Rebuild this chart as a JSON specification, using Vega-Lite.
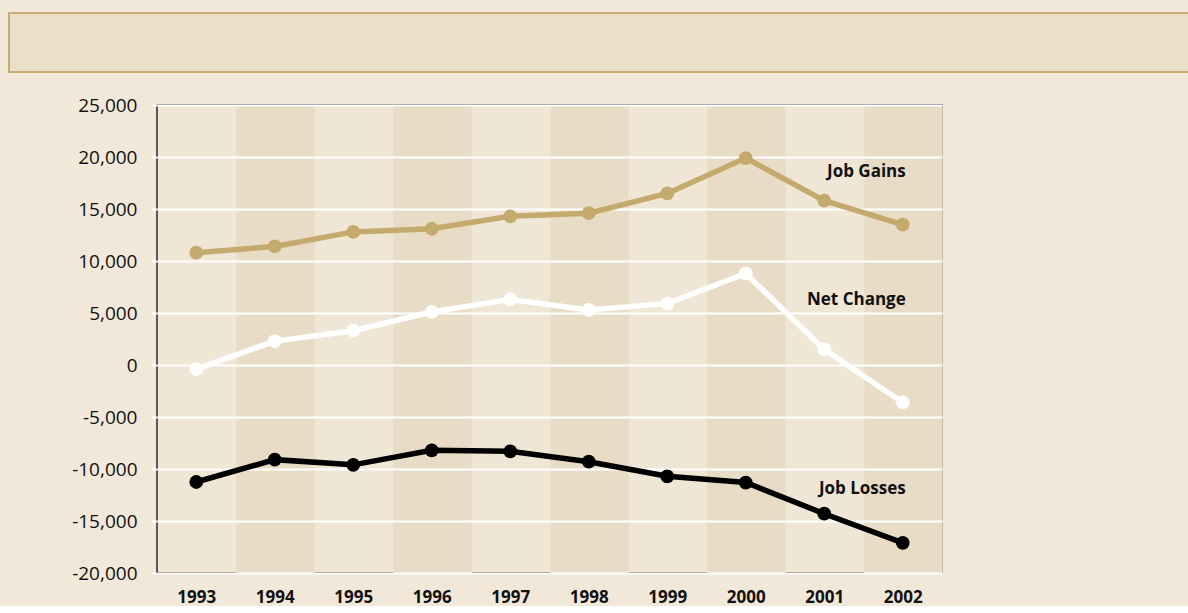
{
  "$schema": "https://vega.github.io/schema/vega-lite/v6.json",
  "background": "#F1E8DA",
  "padding": {"left": 8, "top": 12, "right": 0, "bottom": 0},
  "config": {"font": "Open Sans", "view": {"stroke": null}},
  "align": "none",
  "bounds": "full",
  "spacing": 22,
  "vconcat": [
    {
      "width": 1180,
      "height": 59,
      "view": {"fill": "#EADFC9", "stroke": "#C8AD72", "strokeWidth": 2},
      "data": {"values": []},
      "mark": "point",
      "encoding": {}
    },
    {
      "spacing": 0,
      "hconcat": [
        {
          "width": 61,
          "height": 468,
          "data": {"values": []},
          "mark": "point",
          "encoding": {}
        },
        {
          "width": 785,
          "height": 468,
          "view": {"fill": "#EFE6D6", "stroke": "#2A2A2A", "strokeWidth": 1.5},
          "layer": [
            {
              "data": {"values": [
                {"year": 1993, "series": "Job Gains", "jobs": 10800},
                {"year": 1994, "series": "Job Gains", "jobs": 11400},
                {"year": 1995, "series": "Job Gains", "jobs": 12800},
                {"year": 1996, "series": "Job Gains", "jobs": 13100},
                {"year": 1997, "series": "Job Gains", "jobs": 14300},
                {"year": 1998, "series": "Job Gains", "jobs": 14600},
                {"year": 1999, "series": "Job Gains", "jobs": 16500},
                {"year": 2000, "series": "Job Gains", "jobs": 19900},
                {"year": 2001, "series": "Job Gains", "jobs": 15800},
                {"year": 2002, "series": "Job Gains", "jobs": 13500},
                {"year": 1993, "series": "Net Change", "jobs": -400},
                {"year": 1994, "series": "Net Change", "jobs": 2300},
                {"year": 1995, "series": "Net Change", "jobs": 3300},
                {"year": 1996, "series": "Net Change", "jobs": 5100},
                {"year": 1997, "series": "Net Change", "jobs": 6300},
                {"year": 1998, "series": "Net Change", "jobs": 5300},
                {"year": 1999, "series": "Net Change", "jobs": 5900},
                {"year": 2000, "series": "Net Change", "jobs": 8800},
                {"year": 2001, "series": "Net Change", "jobs": 1500},
                {"year": 2002, "series": "Net Change", "jobs": -3600},
                {"year": 1993, "series": "Job Losses", "jobs": -11250},
                {"year": 1994, "series": "Job Losses", "jobs": -9100},
                {"year": 1995, "series": "Job Losses", "jobs": -9600},
                {"year": 1996, "series": "Job Losses", "jobs": -8200},
                {"year": 1997, "series": "Job Losses", "jobs": -8300},
                {"year": 1998, "series": "Job Losses", "jobs": -9300},
                {"year": 1999, "series": "Job Losses", "jobs": -10700},
                {"year": 2000, "series": "Job Losses", "jobs": -11300},
                {"year": 2001, "series": "Job Losses", "jobs": -14300},
                {"year": 2002, "series": "Job Losses", "jobs": -17100}
              ]},
              "encoding": {
                "x": {
                  "field": "year", "type": "ordinal", "title": null,
                  "scale": {"paddingInner": 0, "paddingOuter": 0},
                  "axis": {
                    "labelAngle": 0, "labelFontWeight": "bold", "labelFontSize": 17,
                    "labelColor": "#111", "labelPadding": 16, "ticks": false, "domain": false,
                    "grid": true, "bandPosition": 0.5, "gridWidth": 78.5,
                    "gridColor": {"condition": {"test": "datum.value % 2 == 0", "value": "#E9DCC6"}, "value": "transparent"}
                  }
                },
                "y": {
                  "field": "jobs", "type": "quantitative", "title": null,
                  "scale": {"domain": [-20000, 25000], "nice": false, "zero": false},
                  "axis": {
                    "values": [-20000, -15000, -10000, -5000, 0, 5000, 10000, 15000, 20000, 25000],
                    "labelExpr": "replace(format(datum.value, ',.0f'), '\u2212', '-')",
                    "labelFontSize": 19, "labelColor": "#111", "labelPadding": 14,
                    "tickColor": "#FFFFFF", "tickSize": 6, "tickWidth": 2,
                    "gridColor": "#FFFFFF", "gridWidth": 2, "domain": false
                  }
                },
                "color": {
                  "field": "series", "type": "nominal", "legend": null,
                  "scale": {"domain": ["Job Gains", "Net Change", "Job Losses"], "range": ["#C5AA6E", "#FFFFFF", "#000000"]}
                },
                "detail": {"field": "series"}
              },
              "layer": [
                {"mark": {"type": "line", "strokeWidth": 5.5}},
                {"mark": {"type": "point", "filled": true, "opacity": 1, "size": 190}}
              ]
            },
            {
              "data": {"values": [
                {"year": 2002, "label": "Job Gains", "pos": 18600},
                {"year": 2002, "label": "Net Change", "pos": 6250},
                {"year": 2002, "label": "Job Losses", "pos": -11900}
              ]},
              "mark": {"type": "text", "align": "right", "baseline": "middle", "dx": 3, "fontWeight": "bold", "fontSize": 17, "color": "#111"},
              "encoding": {
                "x": {"field": "year", "type": "ordinal"},
                "y": {"field": "pos", "type": "quantitative"},
                "text": {"field": "label"}
              }
            }
          ]
        }
      ]
    }
  ]
}
